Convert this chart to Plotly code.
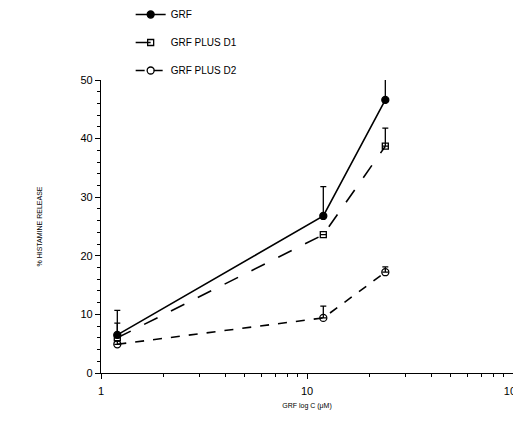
import plotly.graph_objects as go

conc = [1.2, 12, 24]
grf = [6.5, 26.8, 46.6]
grf_err = [4.2, 5.0, 4.0]
d1 = [6.0, 23.6, 38.7]
d1_err = [2.5, 0.0, 3.1]
d2 = [4.9, 9.4, 17.2]
d2_err = [0.6, 2.0, 0.9]
zeros = [0, 0, 0]

FONT = "Liberation Sans, Arial, sans-serif"

fig = go.Figure()
series = [
    ("GRF", grf, grf_err, "solid", "circle", 7),
    ("GRF PLUS D1", d1, d1_err, "longdash", "square-open", 6),
    ("GRF PLUS D2", d2, d2_err, "dash", "circle-open", 7),
]
for name, ys, err, dash, sym, size in series:
    fig.add_trace(go.Scatter(
        x=conc, y=ys, name=name, legendgroup=name,
        mode="lines+markers",
        line=dict(color="black", width=1.6, dash=dash),
        marker=dict(symbol=sym, size=size, color="black", line=dict(color="black", width=1.3)),
        error_y=dict(type="data", symmetric=False, array=err, arrayminus=zeros,
                     color="black", thickness=1.3, width=3),
        cliponaxis=False,
    ))

fig.update_layout(
    width=513, height=416,
    margin=dict(l=93, r=8, t=72, b=51, autoexpand=False),
    paper_bgcolor="white", plot_bgcolor="white",
    font=dict(family=FONT, size=11, color="black"),
    showlegend=True,
    legend=dict(x=0.072, y=1.273, xanchor="left", yanchor="top",
                traceorder="grouped", tracegroupgap=9,
                font=dict(size=10, family=FONT), bgcolor="rgba(0,0,0,0)"),
    xaxis=dict(type="log", range=[0, 2], showgrid=False, zeroline=False,
               automargin=False, ticklabeloverflow="allow",
               showline=True, linecolor="black", linewidth=1.3,
               ticks="outside", ticklen=5, tickcolor="black", tickwidth=1.2,
               tickvals=[1, 10, 100], ticktext=["1", "10", "100"],
               minor=dict(ticks="outside", ticklen=3, tickcolor="black",
                          tickvals=[2, 3, 4, 5, 6, 7, 8, 9, 20, 30, 40, 50, 60, 70, 80, 90]),
               tickfont=dict(size=11), ticklabelstandoff=3,
               title=dict(text="GRF log C (μM)", font=dict(size=7), standoff=6)),
    yaxis=dict(range=[0, 50], showgrid=False, zeroline=False,
               automargin=False,
               showline=True, linecolor="black", linewidth=1.3,
               ticks="outside", ticklen=5, tickcolor="black", tickwidth=1.2,
               tickvals=[0, 10, 20, 30, 40, 50],
               minor=dict(ticks="outside", ticklen=3, tickcolor="black", dtick=2),
               tickfont=dict(size=11),
               title=dict(text="% HISTAMINE RELEASE", font=dict(size=7), standoff=36)),
)

fig.write_html("out.html")
